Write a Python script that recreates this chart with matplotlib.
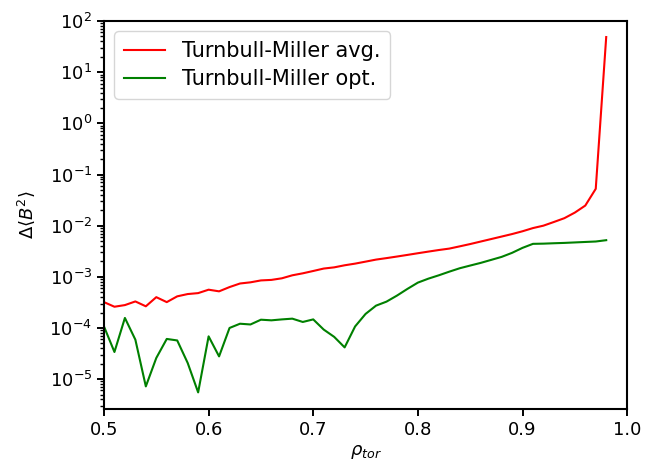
import matplotlib
matplotlib.use("Agg")
import matplotlib.pyplot as plt
import numpy as np

# rho_tor grid (every 0.01 from 0.50 to 0.98)
rho = [0.50, 0.51, 0.52, 0.53, 0.54, 0.55, 0.56, 0.57, 0.58, 0.59,
       0.60, 0.61, 0.62, 0.63, 0.64, 0.65, 0.66, 0.67, 0.68, 0.69,
       0.70, 0.71, 0.72, 0.73, 0.74, 0.75, 0.76, 0.77, 0.78, 0.79,
       0.80, 0.81, 0.82, 0.83, 0.84, 0.85, 0.86, 0.87, 0.88, 0.89,
       0.90, 0.91, 0.92, 0.93, 0.94, 0.95, 0.96, 0.97, 0.98]

# Turnbull-Miller avg.
tm_avg = [3.2e-4, 2.6e-4, 2.8e-4, 3.3e-4, 2.65e-4, 4.0e-4, 3.2e-4, 4.15e-4, 4.6e-4, 4.8e-4,
          5.6e-4, 5.2e-4, 6.3e-4, 7.4e-4, 7.8e-4, 8.5e-4, 8.7e-4, 9.35e-4, 1.07e-3, 1.17e-3,
          1.30e-3, 1.45e-3, 1.53e-3, 1.68e-3, 1.81e-3, 1.98e-3, 2.17e-3, 2.32e-3, 2.49e-3, 2.68e-3,
          2.89e-3, 3.11e-3, 3.34e-3, 3.56e-3, 3.94e-3, 4.37e-3, 4.89e-3, 5.47e-3, 6.12e-3, 6.85e-3,
          7.77e-3, 8.97e-3, 1.0e-2, 1.18e-2, 1.4e-2, 1.8e-2, 2.47e-2, 5.25e-2, 48.7]

# Turnbull-Miller opt.
tm_opt = [1.07e-4, 3.39e-5, 1.57e-4, 5.9e-5, 7.2e-6, 2.59e-5, 6.1e-5, 5.7e-5, 2.07e-5, 5.5e-6,
          6.85e-5, 2.78e-5, 1.0e-4, 1.21e-4, 1.17e-4, 1.45e-4, 1.41e-4, 1.47e-4, 1.52e-4, 1.31e-4,
          1.47e-4, 9.3e-5, 6.7e-5, 4.17e-5, 1.07e-4, 1.88e-4, 2.73e-4, 3.27e-4, 4.29e-4, 5.8e-4,
          7.7e-4, 9.2e-4, 1.07e-3, 1.26e-3, 1.47e-3, 1.66e-3, 1.87e-3, 2.14e-3, 2.45e-3, 2.94e-3,
          3.68e-3, 4.41e-3, 4.45e-3, 4.53e-3, 4.6e-3, 4.7e-3, 4.8e-3, 4.9e-3, 5.2e-3]

fig = plt.figure(figsize=(6.56, 4.68), dpi=100)
ax = fig.add_axes([0.1585, 0.126, 0.7975, 0.829])

ax.semilogy(rho, tm_avg, color='red', lw=1.5, label='Turnbull-Miller avg.')
ax.semilogy(rho, tm_opt, color='green', lw=1.5, label='Turnbull-Miller opt.')

ax.set_xlim(0.5, 1.0)
ax.set_ylim(2.6e-6, 1e2)
ax.set_xlabel(r'$\rho_{tor}$', fontsize=13, labelpad=3)
ax.set_ylabel(r'$\Delta\langle B^2\rangle$', fontsize=13, labelpad=9)
ax.tick_params(labelsize=13, width=1.4, length=5)
ax.tick_params(which='minor', width=1.0, length=2.8)
for s in ax.spines.values():
    s.set_linewidth(1.5)
ax.legend(loc='upper left', fontsize=15, handlelength=2.0, borderpad=0.45,
          labelspacing=0.4)

fig.savefig('out.png', dpi=100)
